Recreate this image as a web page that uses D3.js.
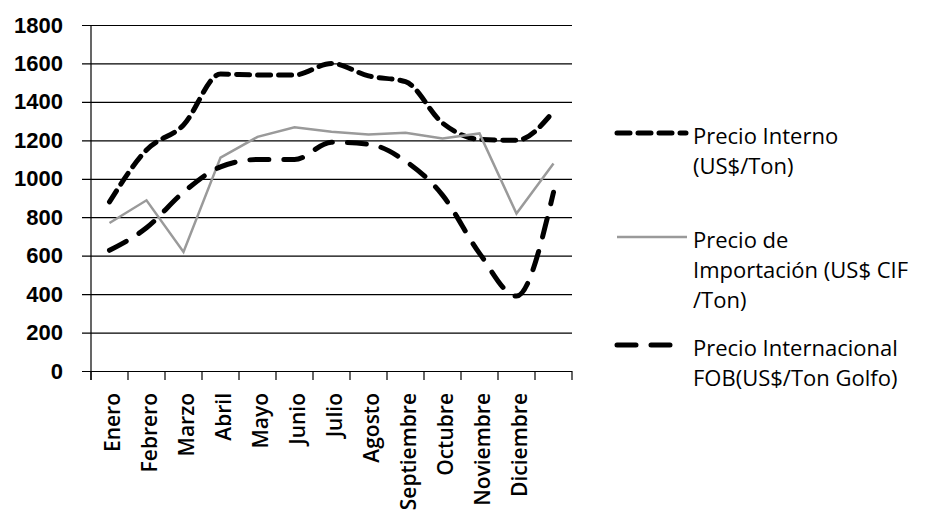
<!DOCTYPE html>
<html>
<head>
<meta charset="utf-8">
<script src="https://cdn.jsdelivr.net/npm/d3@7"></script>
<style>
  body { margin: 0; background: #fff; }
  svg { display: block; font-family: "Open Sans", sans-serif; }
</style>
</head>
<body>
<div id="chart"></div>
<script>
// month labels (the 13th category has no label in the source)
const months = ['Enero', 'Febrero', 'Marzo', 'Abril', 'Mayo', 'Junio', 'Julio', 'Agosto',
  'Septiembre', 'Octubre', 'Noviembre', 'Diciembre', ''];
const precioInterno = [880, 1150, 1280, 1545, 1540, 1540, 1600, 1535, 1505, 1290, 1205, 1200, 1350];
const precioImportacion = [770, 888, 619, 1110, 1218, 1268, 1245, 1230, 1240, 1210, 1236, 819, 1080];
const precioInternacional = [628, 745, 930, 1062, 1100, 1100, 1190, 1180, 1092, 915, 612, 390, 930];
const yTicks = [0, 200, 400, 600, 800, 1000, 1200, 1400, 1600, 1800];

const series = [
  { name: ['Precio Interno', '(US$/Ton)'], values: precioInterno, dash: '13,8', width: 5, color: '#000', smooth: true, cap: 'round', legendY: 133, legendX2: 686 },
  { name: ['Precio de', 'Importación (US$ CIF', '/Ton)'], values: precioImportacion, dash: null, width: 2.5, color: '#9a9a9a', smooth: false, cap: 'butt', legendY: 237, legendX2: 687 },
  { name: ['Precio Internacional', 'FOB(US$/Ton  Golfo)'], values: precioInternacional, dash: '19,15', width: 5, color: '#000', smooth: true, cap: 'round', legendY: 345, legendX2: 670 }
];

const width = 925, height = 511;
const margin = { top: 25, right: 353, bottom: 140, left: 91 };
const plotW = width - margin.left - margin.right;
const plotH = height - margin.top - margin.bottom;

const svg = d3.select('#chart').append('svg')
  .attr('width', width)
  .attr('height', height);

const g = svg.append('g')
  .attr('transform', 'translate(' + margin.left + ',' + margin.top + ')');

const scaleX = d3.scaleBand().domain(d3.range(months.length)).range([0, plotW]);
const scaleY = d3.scaleLinear().domain([0, 1800]).range([plotH, 0]);

// horizontal grid lines + y labels
const yAxis = d3.axisLeft(scaleY).tickValues(yTicks).tickFormat(d3.format('d'))
  .tickSize(-plotW).tickSizeOuter(0).tickPadding(18);
const yG = g.append('g').call(yAxis);
yG.select('.domain').remove();
yG.selectAll('.tick line')
  .attr('x1', -9)
  .attr('stroke', '#000')
  .attr('stroke-width', 1.2);
yG.selectAll('.tick text')
  .attr('x', -28)
  .attr('fill', '#000')
  .style('font-size', '22px')
  .style('font-weight', 600);

// vertical axis line
g.append('line')
  .attr('x1', 0).attr('x2', 0)
  .attr('y1', 0).attr('y2', plotH + 9)
  .attr('stroke', '#000')
  .attr('stroke-width', 1.2);

// category ticks at band edges
const edges = d3.range(months.length + 1).map((i) => i * scaleX.step());
g.selectAll('.xtick')
  .data(edges)
  .enter().append('line')
  .attr('x1', (d) => d).attr('x2', (d) => d)
  .attr('y1', plotH).attr('y2', plotH + 9)
  .attr('stroke', '#000')
  .attr('stroke-width', 1.2);

// rotated month labels
g.selectAll('.xlabel')
  .data(months)
  .enter().append('text')
  .attr('transform', (d, i) => 'translate(' + (scaleX(i) + scaleX.bandwidth() / 2 + 3) + ',' + (plotH + 22) + ') rotate(-90)')
  .attr('text-anchor', 'end')
  .attr('dy', '0.35em')
  .style('font-size', '21px')
  .style('font-weight', 600)
  .attr('fill', '#000')
  .text((d) => d);

// series lines
series.forEach((s) => {
  const line = d3.line()
    .x((d, i) => scaleX(i) + scaleX.bandwidth() / 2)
    .y((d) => scaleY(d))
    .curve(s.smooth ? d3.curveMonotoneX : d3.curveLinear);
  g.append('path')
    .datum(s.values)
    .attr('fill', 'none')
    .attr('stroke', s.color)
    .attr('stroke-width', s.width)
    .attr('stroke-linecap', s.cap)
    .attr('stroke-dasharray', s.dash)
    .attr('d', line);
});

// legend
const lineH = 30;
const legend = svg.append('g');
series.forEach((s) => {
  const y0 = s.legendY;
  legend.append('line')
    .attr('x1', 617).attr('x2', s.legendX2)
    .attr('y1', y0).attr('y2', y0)
    .attr('stroke', s.color)
    .attr('stroke-width', s.width)
    .attr('stroke-linecap', s.cap)
    .attr('stroke-dasharray', s.dash);
  s.name.forEach((t, j) => {
    legend.append('text')
      .attr('x', 693)
      .attr('y', y0 + 3 + j * lineH)
      .attr('dy', '0.35em')
      .style('font-size', '22px')
      .style('font-weight', 500)
      .attr('fill', '#000')
      .text(t);
  });
});
</script>
</body>
</html>
